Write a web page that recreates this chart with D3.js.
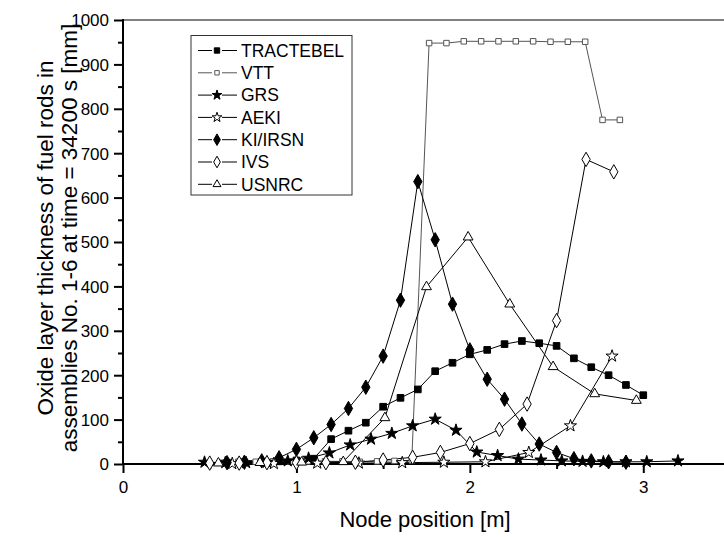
<!DOCTYPE html>
<html>
<head>
<meta charset="utf-8">
<script src="https://cdn.jsdelivr.net/npm/d3@7"></script>
<style>
  body { margin: 0; background: #fff; }
  svg { display: block; font-family: "Liberation Sans", Arial, sans-serif; }
</style>
</head>
<body>
<svg id="chart" width="724" height="537"></svg>
<script>
// Oxide layer thickness along the rods, one x/y pair of arrays per code
const seriesNames = ["TRACTEBEL", "VTT", "GRS", "AEKI", "KI/IRSN", "IVS", "USNRC"];

const tractebelX = [0.6, 0.7, 0.8, 0.9, 1.0, 1.1, 1.2, 1.3, 1.4, 1.5, 1.6, 1.7, 1.8, 1.9, 2.0, 2.1, 2.2, 2.3, 2.4, 2.5, 2.6, 2.7, 2.8, 2.9, 3.0];
const tractebelY = [3, 4, 5, 6, 8, 12, 56, 75, 93, 129, 149, 168, 209, 228, 247, 257, 270, 277, 272, 266, 238, 218, 200, 178, 155];

const vttX = [0.565, 0.665, 0.765, 0.865, 0.965, 1.065, 1.165, 1.265, 1.365, 1.465, 1.565, 1.665, 1.765, 1.865, 1.965, 2.065, 2.165, 2.265, 2.365, 2.465, 2.565, 2.665, 2.765, 2.865];
const vttY = [3, 5, 5, 6, 5, 6, 6, 6, 5, 6, 7, 8, 948, 948, 952, 952, 952, 952, 952, 951, 951, 951, 775, 775];

const grsX = [0.47, 0.59, 0.71, 0.83, 0.95, 1.07, 1.19, 1.31, 1.43, 1.55, 1.67, 1.80, 1.92, 2.04, 2.16, 2.28, 2.41, 2.53, 2.65, 2.77, 2.90, 3.02, 3.20];
const grsY = [4, 3, 3, 4, 7, 13, 25, 43, 56, 69, 86, 101, 76, 27, 19, 11, 9, 7, 6, 5, 5, 5, 7];

const aekiX = [0.63, 0.87, 1.12, 1.36, 1.61, 1.85, 2.09, 2.34, 2.58, 2.82];
const aekiY = [1, 1, 2, 2, 3, 4, 5, 26, 86, 243];

const kiX = [0.6, 0.7, 0.8, 0.9, 1.0, 1.1, 1.2, 1.3, 1.4, 1.5, 1.6, 1.7, 1.8, 1.9, 2.0, 2.1, 2.2, 2.3, 2.4, 2.5, 2.6, 2.7, 2.8, 2.9];
const kiY = [3, 4, 7, 14, 33, 59, 89, 125, 173, 243, 369, 636, 505, 360, 257, 191, 146, 90, 45, 26, 12, 7, 5, 4];

const ivsX = [0.5, 0.67, 0.83, 1.0, 1.17, 1.34, 1.5, 1.67, 1.83, 2.0, 2.17, 2.33, 2.5, 2.67, 2.83];
const ivsY = [2, 2, 3, 3, 3, 4, 9, 15, 26, 46, 78, 135, 323, 686, 658];

const usnrcX = [0.55, 0.79, 1.03, 1.27, 1.51, 1.75, 1.99, 2.23, 2.48, 2.72, 2.96];
const usnrcY = [2, 3, 4, 5, 104, 399, 511, 360, 219, 158, 143];

const xTicks = [0, 1, 2, 3];
const yTicks = [0, 100, 200, 300, 400, 500, 600, 700, 800, 900, 1000];

const xTitle = "Node position [m]";
const yTitleLines = ["Oxide layer thickness of fuel rods in", "assemblies No. 1-6 at time = 34200 s [mm]"];

// marker look per series
const styles = [
  { x: tractebelX, y: tractebelY, symbol: d3.symbolSquare, size: 44, fill: "#000", stroke: "#000" },
  { x: vttX, y: vttY, symbol: d3.symbolSquare, size: 30, fill: "#fff", stroke: "#555" },
  { x: grsX, y: grsY, symbol: d3.symbolStar, size: 46, fill: "#000", stroke: "#000" },
  { x: aekiX, y: aekiY, symbol: d3.symbolStar, size: 46, fill: "#fff", stroke: "#000" },
  { x: kiX, y: kiY, symbol: d3.symbolDiamond, size: 60, fill: "#000", stroke: "#000" },
  { x: ivsX, y: ivsY, symbol: d3.symbolDiamond, size: 60, fill: "#fff", stroke: "#000" },
  { x: usnrcX, y: usnrcY, symbol: d3.symbolTriangle, size: 42, fill: "#fff", stroke: "#000" }
];

const svg = d3.select("#chart");
const plotLeft = 123, plotRight = 730, plotTop = 20, plotBottom = 464;

const x = d3.scaleLinear().domain([0, 3.5]).range([plotLeft, plotRight]);
const y = d3.scaleLinear().domain([0, 1000]).range([plotBottom, plotTop]);

// frame top edge
svg.append("line")
  .attr("x1", plotLeft).attr("x2", plotRight).attr("y1", plotTop).attr("y2", plotTop)
  .attr("stroke", "#808080").attr("stroke-width", 2);

// minor ticks
const gMinorX = svg.append("g").attr("transform", `translate(0,${plotBottom})`)
  .call(d3.axisBottom(x).tickValues([0.5, 1.5, 2.5]).tickSize(5).tickFormat(""));
const gMinorY = svg.append("g").attr("transform", `translate(${plotLeft},0)`)
  .call(d3.axisLeft(y).tickValues(d3.range(50, 1000, 100)).tickSize(5).tickFormat(""));

const gx = svg.append("g").attr("transform", `translate(0,${plotBottom})`)
  .call(d3.axisBottom(x).tickValues(xTicks).tickSize(9).tickPadding(8).tickFormat(d3.format("d")));
const gy = svg.append("g").attr("transform", `translate(${plotLeft},0)`)
  .call(d3.axisLeft(y).tickValues(yTicks).tickSize(9).tickPadding(5).tickFormat(d3.format("d")));

[gMinorX, gMinorY, gx, gy].forEach(g => {
  g.select(".domain").remove();
  g.selectAll(".tick line").attr("stroke", "#000").attr("stroke-width", 2);
});
gx.selectAll(".tick text").attr("font-size", 17).attr("fill", "#000");
gy.selectAll(".tick text").attr("font-size", 17).attr("fill", "#000").attr("dy", "0.35em");

// axis lines
svg.append("line").attr("x1", plotLeft).attr("x2", plotLeft).attr("y1", plotTop - 1).attr("y2", plotBottom + 1)
  .attr("stroke", "#000").attr("stroke-width", 2);
svg.append("line").attr("x1", plotLeft - 1).attr("x2", plotRight).attr("y1", plotBottom).attr("y2", plotBottom)
  .attr("stroke", "#000").attr("stroke-width", 2);

// series lines and markers
const line = d3.line().x(d => x(d[0])).y(d => y(d[1]));
styles.forEach(s => {
  const pts = s.x.map((v, i) => [v, s.y[i]]);
  svg.append("path").datum(pts).attr("d", line)
    .attr("fill", "none").attr("stroke", s.stroke).attr("stroke-width", 1);
});
styles.forEach(s => {
  const pts = s.x.map((v, i) => [v, s.y[i]]);
  svg.append("g").selectAll("path").data(pts).join("path")
    .attr("transform", d => `translate(${x(d[0])},${y(d[1])})`)
    .attr("d", d3.symbol().type(s.symbol).size(s.size))
    .attr("fill", s.fill).attr("stroke", s.stroke).attr("stroke-width", 1);
});

// legend
const lg = svg.append("g");
lg.append("rect").attr("x", 191).attr("y", 35.5).attr("width", 161).attr("height", 159.5)
  .attr("fill", "#fff").attr("stroke", "#333").attr("stroke-width", 1);
styles.forEach((s, i) => {
  const cy = 50.5 + i * 22.3;
  lg.append("line").attr("x1", 198).attr("x2", 212).attr("y1", cy).attr("y2", cy).attr("stroke", s.stroke);
  lg.append("line").attr("x1", 222).attr("x2", 237).attr("y1", cy).attr("y2", cy).attr("stroke", s.stroke);
  lg.append("path").attr("transform", `translate(217,${cy})`)
    .attr("d", d3.symbol().type(s.symbol).size(s.size * 0.65))
    .attr("fill", s.fill).attr("stroke", s.stroke);
  lg.append("text").attr("x", 241).attr("y", cy).attr("dy", "0.36em")
    .attr("font-size", 17.5).attr("fill", "#000").text(seriesNames[i]);
});

// axis titles
svg.append("text").attr("x", 425).attr("y", 527).attr("text-anchor", "middle")
  .attr("font-size", 22).attr("fill", "#000").text(xTitle);
yTitleLines.forEach((t, i) => {
  svg.append("text").attr("transform", `translate(${53 + i * 24},${238}) rotate(-90)`)
    .attr("text-anchor", "middle").attr("font-size", 22.5).attr("fill", "#000").text(t);
});
</script>
</body>
</html>
